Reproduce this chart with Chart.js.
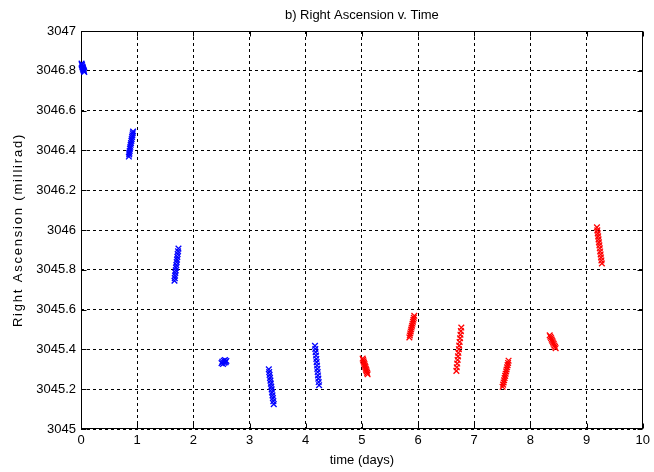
<!DOCTYPE html>
<html><head><meta charset="utf-8">
<script src="https://cdn.jsdelivr.net/npm/chart.js@4.4.0/dist/chart.umd.min.js"></script>
<style>html,body{margin:0;padding:0;background:#fff}#wrap{width:654px;height:472px}</style>
</head><body><div id="wrap"><canvas id="c" width="654" height="472"></canvas></div>
<script>
const chartTitle = 'b) Right Ascension v. Time';
const xAxisTitle = 'time (days)';
const yAxisTitle = 'Right Ascension (millirad)';
const xTickValues = [0,1,2,3,4,5,6,7,8,9,10];
const yTickValues = [3045,3045.2,3045.4,3045.6,3045.8,3046,3046.2,3046.4,3046.6,3046.8,3047];
const yTickLabels = ['3045','3045.2','3045.4','3045.6','3045.8','3046','3046.2','3046.4','3046.6','3046.8','3047'];

// blue passes (days 0 - 4.3)
const blueTime = [
  0.010,0.015,0.018,0.024,0.028,0.033,0.036,0.042,0.047,0.052,0.058,
  0.852,0.858,0.861,0.867,0.872,0.879,0.884,0.890,0.897,0.903,0.909,0.915,0.921,0.927,
  1.664,1.669,1.674,1.680,1.686,1.691,1.697,1.703,1.709,1.715,1.721,1.728,1.735,
  2.502,2.515,2.528,2.540,2.552,2.563,2.575,2.588,
  3.343,3.350,3.357,3.364,3.372,3.379,3.387,3.394,3.401,3.409,3.416,3.424,3.431,
  4.165,4.171,4.177,4.183,4.189,4.195,4.201,4.207,4.213,4.219,4.225,4.231,4.238
];
const blueRA = [
  3046.836,3046.831,3046.828,3046.822,3046.818,3046.815,3046.810,3046.806,3046.802,3046.799,3046.794,
  3046.369,3046.380,3046.388,3046.397,3046.409,3046.418,3046.428,3046.437,3046.448,3046.457,3046.467,3046.476,3046.486,3046.495,
  3045.745,3045.758,3045.771,3045.785,3045.797,3045.811,3045.824,3045.838,3045.851,3045.865,3045.879,3045.893,3045.907,
  3045.331,3045.338,3045.327,3045.343,3045.333,3045.346,3045.336,3045.342,
  3045.300,3045.286,3045.272,3045.257,3045.243,3045.228,3045.213,3045.199,3045.184,3045.169,3045.155,3045.140,3045.125,
  3045.418,3045.402,3045.386,3045.369,3045.352,3045.336,3045.319,3045.302,3045.286,3045.269,3045.253,3045.236,3045.220
];
// red passes (days 5 - 9.3)
const redTime = [
  5.014,5.022,5.030,5.038,5.046,5.054,5.062,5.070,5.078,5.086,5.094,5.102,
  5.845,5.853,5.861,5.869,5.877,5.885,5.893,5.901,5.909,5.917,5.925,5.933,
  6.682,6.689,6.697,6.704,6.711,6.718,6.726,6.733,6.740,6.748,6.755,6.762,6.770,
  7.505,7.514,7.523,7.532,7.541,7.550,7.559,7.568,7.576,7.585,7.594,7.603,7.611,
  8.343,8.355,8.367,8.379,8.391,8.402,8.414,8.426,8.438,8.449,
  9.184,9.191,9.198,9.206,9.213,9.220,9.228,9.235,9.242,9.250,9.257,9.264,9.272
];
const redRA = [
  3045.354,3045.347,3045.340,3045.333,3045.326,3045.318,3045.311,3045.303,3045.296,3045.289,3045.282,3045.275,
  3045.460,3045.470,3045.480,3045.490,3045.500,3045.510,3045.519,3045.529,3045.539,3045.549,3045.559,3045.569,
  3045.292,3045.310,3045.329,3045.347,3045.365,3045.383,3045.401,3045.419,3045.437,3045.456,3045.474,3045.492,3045.510,
  3045.212,3045.223,3045.234,3045.245,3045.256,3045.267,3045.278,3045.289,3045.299,3045.310,3045.321,3045.332,3045.343,
  3045.471,3045.464,3045.457,3045.449,3045.442,3045.435,3045.428,3045.420,3045.413,3045.406,
  3046.013,3045.998,3045.983,3045.968,3045.953,3045.938,3045.923,3045.908,3045.892,3045.877,3045.862,3045.847,3045.832
];

const FONT = 'Liberation Sans, Arial, Helvetica, sans-serif';
const toPts = (xs, ys) => xs.map((x, i) => ({x: x, y: ys[i]}));

const framePlugin = {
  id: 'frame',
  beforeDatasetsDraw(chart) {
    const {ctx, chartArea: a, scales: {x, y}} = chart;
    const L = Math.round(a.left) + 0.5, R = Math.round(a.right) - 0.5;
    const T = Math.round(a.top) + 0.5, B = Math.round(a.bottom) - 0.5;
    ctx.save();
    ctx.strokeStyle = '#000';
    ctx.lineWidth = 1;
    ctx.beginPath();
    xTickValues.forEach(v => {
      const px = Math.round(x.getPixelForValue(v)) + 0.5;
      ctx.moveTo(px, B); ctx.lineTo(px, B - 5);
      ctx.moveTo(px, T); ctx.lineTo(px, T + 5);
    });
    yTickValues.forEach(v => {
      const py = Math.round(y.getPixelForValue(v)) + 0.5;
      ctx.moveTo(L, py); ctx.lineTo(L + 5, py);
      ctx.moveTo(R, py); ctx.lineTo(R - 5, py);
    });
    ctx.stroke();
    ctx.strokeRect(L, T, R - L, B - T);
    ctx.restore();
  },
  afterDraw(chart) {
    const {ctx, chartArea: a} = chart;
    ctx.save();
    ctx.fillStyle = '#000';
    ctx.font = '13px ' + FONT;
    ctx.textAlign = 'center';
    ctx.textBaseline = 'middle';
    ctx.fillText(chartTitle, (a.left + a.right) / 2, 15);
    ctx.translate(18, (a.top + a.bottom) / 2);
    ctx.rotate(-Math.PI / 2);
    ctx.letterSpacing = '1.8px';
    ctx.fillText(yAxisTitle, 0, 0);
    ctx.restore();
  }
};

new Chart(document.getElementById('c'), {
  type: 'scatter',
  data: {
    datasets: [
      {data: toPts(blueTime, blueRA), borderColor: '#0000ff', backgroundColor: '#0000ff',
       pointStyle: 'crossRot', pointRadius: 4, borderWidth: 1.3, clip: false},
      {data: toPts(redTime, redRA), borderColor: '#ff0000', backgroundColor: '#ff0000',
       pointStyle: 'crossRot', pointRadius: 4, borderWidth: 1.3, clip: false}
    ]
  },
  options: {
    responsive: false,
    animation: false,
    events: [],
    layout: {padding: {left: 0, right: 7, top: 31, bottom: 0}},
    plugins: {
      legend: {display: false},
      tooltip: {enabled: false},
      title: {display: false}
    },
    scales: {
      x: {
        type: 'linear', min: 0, max: 10,
        afterBuildTicks(s) { s.ticks = xTickValues.map(v => ({value: v})); },
        afterFit(s) { s.height = 43; },
        ticks: {color: '#000', font: {family: FONT, size: 13}, padding: 4, maxRotation: 0,
          callback: v => String(v)},
        grid: {color: '#000', lineWidth: 1, drawTicks: false},
        border: {display: false, dash: [3, 3]},
        title: {display: true, text: xAxisTitle, color: '#000',
          font: {family: FONT, size: 13}, padding: {top: 0, bottom: 4}}
      },
      y: {
        type: 'linear', min: 3045, max: 3047,
        afterBuildTicks(s) { s.ticks = yTickValues.map(v => ({value: v})); },
        afterFit(s) { s.width = 81; },
        ticks: {color: '#000', font: {family: FONT, size: 13}, padding: 5,
          callback: (v, i) => yTickLabels[i]},
        grid: {color: '#000', lineWidth: 1, drawTicks: false},
        border: {display: false, dash: [3, 3]},
        title: {display: false}
      }
    }
  },
  plugins: [framePlugin]
});
</script>
</body></html>
